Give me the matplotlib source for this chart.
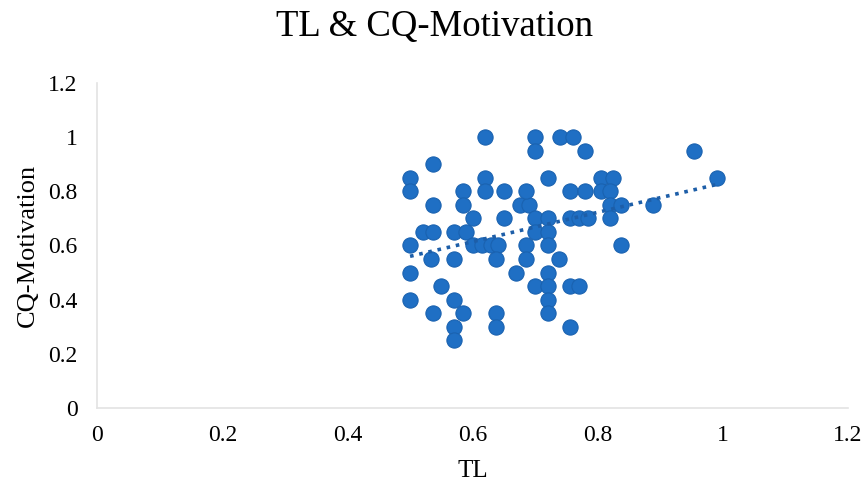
import matplotlib
matplotlib.use("Agg")
import matplotlib.pyplot as plt
import numpy as np

plt.rcParams['font.family'] = ['Liberation Serif', 'DejaVu Serif']

# TL values (x) and CQ-Motivation values (y)
tl = [0.50, 0.50, 0.50, 0.50, 0.50, 0.52, 0.536, 0.536, 0.536, 0.533,
      0.536, 0.55, 0.57, 0.57, 0.57, 0.57, 0.57, 0.585, 0.585, 0.59,
      0.585, 0.60, 0.60, 0.615, 0.63, 0.64, 0.62, 0.62, 0.62, 0.637,
      0.637, 0.637, 0.65, 0.65, 0.67, 0.675, 0.69, 0.685, 0.685, 0.685,
      0.70, 0.70, 0.70, 0.72, 0.70, 0.72, 0.72, 0.72, 0.72, 0.70,
      0.72, 0.72, 0.72, 0.738, 0.74, 0.76, 0.755, 0.755, 0.77, 0.785,
      0.755, 0.77, 0.755, 0.78, 0.78, 0.805, 0.824, 0.805, 0.82, 0.82,
      0.837, 0.82, 0.888, 0.837, 0.954, 0.99]
cq = [0.85, 0.80, 0.60, 0.50, 0.40, 0.65, 0.65, 0.90, 0.75, 0.55,
      0.35, 0.45, 0.65, 0.55, 0.40, 0.30, 0.25, 0.80, 0.75, 0.65,
      0.35, 0.70, 0.60, 0.60, 0.60, 0.60, 1.00, 0.85, 0.80, 0.55,
      0.35, 0.30, 0.80, 0.70, 0.50, 0.75, 0.75, 0.80, 0.60, 0.55,
      1.00, 0.95, 0.70, 0.70, 0.65, 0.65, 0.85, 0.60, 0.50, 0.45,
      0.45, 0.40, 0.35, 0.55, 1.00, 1.00, 0.80, 0.70, 0.70, 0.70,
      0.45, 0.45, 0.30, 0.95, 0.80, 0.85, 0.85, 0.80, 0.80, 0.75,
      0.75, 0.70, 0.75, 0.60, 0.95, 0.85]

xticks = [0, 0.2, 0.4, 0.6, 0.8, 1, 1.2]
yticks = [0, 0.2, 0.4, 0.6, 0.8, 1, 1.2]
ticklabels = ['0', '0.2', '0.4', '0.6', '0.8', '1', '1.2']

fig = plt.figure(figsize=(8.68, 4.87), dpi=100)
ax = fig.add_axes([0.112, 0.162, 0.865, 0.668])

ax.scatter(tl, cq, s=120, color='#1f6fc4', edgecolors='#1a62b0', linewidths=0.8, zorder=3)

# linear trendline (like Excel)
x = np.array(tl)
k, b = np.polyfit(x, np.array(cq), 1)
xs = np.array([x.min(), x.max()])
ax.plot(xs, k * xs + b, linestyle=(0, (1, 1.6)), color='#1d5ea8', linewidth=2.6, zorder=4)

ax.set_xlim(0, 1.2)
ax.set_ylim(0, 1.2)
ax.set_xticks(xticks)
ax.set_yticks(yticks)
ax.set_xticklabels(ticklabels)
ax.set_yticklabels(ticklabels)
ax.tick_params(length=0, labelsize=17)
ax.tick_params(axis='x', pad=12)
ax.tick_params(axis='y', pad=14)

for s in ['top', 'right']:
    ax.spines[s].set_visible(False)
for s in ['left', 'bottom']:
    ax.spines[s].set_color('#e3e3e3')
    ax.spines[s].set_linewidth(1.2)

ax.set_xlabel('TL', fontsize=18, labelpad=10)
ax.set_ylabel('CQ-Motivation', fontsize=19, labelpad=7)
fig.text(0.5, 0.945, 'TL & CQ-Motivation', fontsize=26.5, ha='center', va='center')

fig.savefig('out.png', dpi=100)
